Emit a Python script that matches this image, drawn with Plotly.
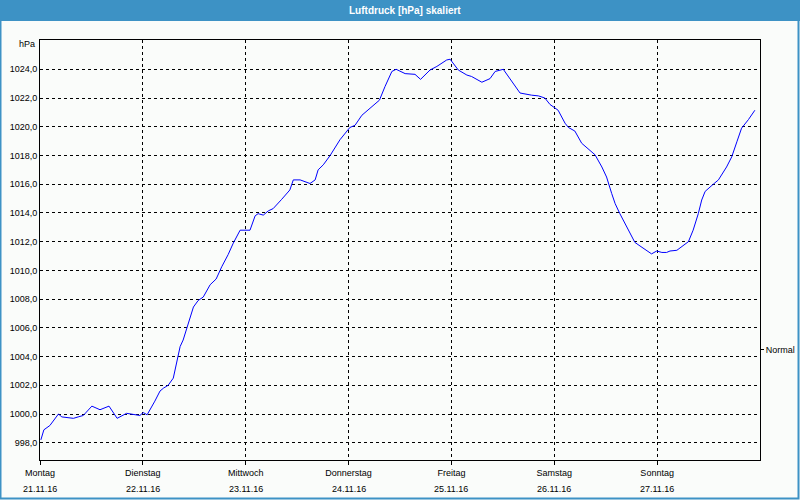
import plotly.graph_objects as go

# Hours since Monday 21.11.16 00:00
hours = [0.2, 0.9, 2.3, 4.3, 5.1, 7.8, 8.9, 10.1, 12.1, 14.0, 16.1, 18.0, 20.2, 21.0, 23.3, 24.1, 25.0,
         26.8, 28.0, 28.8, 29.9, 31.1, 32.7, 33.4, 35.8, 36.9, 38.1, 39.7, 41.1, 42.4, 43.9, 45.1,
         46.7, 49.0, 50.2, 50.9, 52.1, 53.3, 54.4, 56.4, 58.3, 59.1, 60.7, 63.0, 64.2, 64.9, 66.1,
         67.7, 70.0, 72.3, 73.5, 75.1, 77.0, 79.2, 80.5, 82.1, 83.1, 85.2, 87.5, 88.8, 91.0, 92.6,
         94.9, 95.7, 97.6, 99.6, 100.7, 103.1, 105.0, 106.2, 108.1, 110.1, 112.0, 114.7, 116.3,
         117.8, 119.0, 120.9, 122.5, 123.3, 124.8, 126.4, 127.9, 129.5, 131.1, 132.2, 133.4, 134.2,
         135.3, 136.9, 138.8, 140.0, 141.6, 142.7, 143.9, 145.1, 146.2, 147.0, 148.6, 150.1, 151.3,
         152.4, 153.6, 154.4, 155.2, 157.1, 158.3, 160.2, 161.4, 162.6, 163.7, 165.3, 166.8]
pressure = [998.2, 998.9, 999.2, 1000.0, 999.8, 999.7, 999.8, 999.9, 1000.55, 1000.3, 1000.55, 999.7,
            1000.05, 1000.0, 999.9, 1000.1, 999.95,
            1000.9, 1001.6, 1001.8, 1002.0, 1002.5, 1004.7, 1005.15, 1007.45, 1007.9, 1008.15, 1009.0,
            1009.4, 1010.25, 1011.1, 1011.9,
            1012.8, 1012.8, 1013.8, 1013.95, 1013.85, 1014.15, 1014.3, 1014.95, 1015.6, 1016.3, 1016.3,
            1016.05, 1016.3, 1017.0, 1017.35,
            1018.0, 1019.1, 1019.95, 1020.1, 1020.8, 1021.3, 1021.85, 1022.8, 1023.85, 1024.0, 1023.7,
            1023.65, 1023.3, 1023.95, 1024.2,
            1024.65, 1024.7, 1023.95, 1023.6, 1023.5, 1023.1, 1023.35, 1023.85, 1024.0, 1023.15, 1022.35,
            1022.2, 1022.15,
            1022.0, 1021.55, 1021.15, 1020.25, 1019.95, 1019.7, 1018.85, 1018.45, 1018.05, 1017.2, 1016.5,
            1015.35, 1014.65,
            1013.95, 1013.05, 1011.95, 1011.7, 1011.35, 1011.15, 1011.35, 1011.25, 1011.25, 1011.35,
            1011.4, 1011.7, 1012.0,
            1012.8, 1013.95, 1014.9, 1015.5, 1016.0, 1016.3, 1017.2, 1017.9, 1018.95, 1019.9, 1020.5,
            1021.15]

day_hours = [0, 24, 48, 72, 96, 120, 144]
day_names = ["Montag", "Dienstag", "Mittwoch", "Donnerstag", "Freitag", "Samstag", "Sonntag"]
day_dates = ["21.11.16", "22.11.16", "23.11.16", "24.11.16", "25.11.16", "26.11.16", "27.11.16"]
y_ticks = [998, 1000, 1002, 1004, 1006, 1008, 1010, 1012, 1014, 1016, 1018, 1020, 1022, 1024]
normal_value = 1004.5

title_text = "Luftdruck [hPa] skaliert"
unit_text = "hPa"

BG = "#fafcfa"
BLUE_BAR = "#3d92c5"
FONT = "Liberation Sans"
W, H = 800, 500
ML, MR, MT, MB = 40, 40, 40, 40
PW, PH = W - ML - MR, H - MT - MB


def px_to_paper_x(px):
    return (px - ML) / PW


def px_to_paper_y(py):
    return (H - MB - py) / PH


yrange = [996.8, 1026.04]

fig = go.Figure()
fig.add_trace(go.Scatter(x=hours, y=pressure, mode="lines",
                         line=dict(color="#0000ff", width=1), showlegend=False,
                         hoverinfo="skip"))
# invisible trace for secondary axis
fig.add_trace(go.Scatter(x=[0], y=[normal_value], yaxis="y2", mode="markers",
                         marker=dict(opacity=0), showlegend=False, hoverinfo="skip"))

fig.update_layout(
    width=W, height=H,
    margin=dict(l=ML, r=MR, t=MT, b=MB, autoexpand=False),
    paper_bgcolor=BG, plot_bgcolor=BG,
    font=dict(family=FONT, size=9, color="#000000"),
    separators=",.",
    xaxis=dict(range=[0, 168], tickvals=day_hours, ticktext=day_names,
               showgrid=True, gridcolor="#000000", gridwidth=1, griddash="3px,3px",
               showline=True, linecolor="#000000", linewidth=1, mirror=True,
               ticks="outside", ticklen=4, tickcolor="#000000", automargin=False,
               tickfont=dict(family=FONT, size=9), zeroline=False, fixedrange=True),
    yaxis=dict(range=yrange, tickvals=y_ticks, tickformat=".1f",
               showgrid=True, gridcolor="#000000", gridwidth=1, griddash="3px,3px",
               showline=True, linecolor="#000000", linewidth=1, mirror=True, automargin=False,
               ticks="", tickfont=dict(family=FONT, size=9), zeroline=False),
    yaxis2=dict(range=yrange, overlaying="y", side="right", tickvals=[normal_value],
                ticktext=["Normal"], showgrid=False, ticks="outside", ticklen=3,
                tickcolor="#000000", showline=False, zeroline=False, automargin=False,
                tickfont=dict(family=FONT, size=9)),
    shapes=[
        dict(type="rect", xref="paper", yref="paper",
             x0=px_to_paper_x(0), x1=px_to_paper_x(800), y0=px_to_paper_y(0), y1=px_to_paper_y(21),
             fillcolor=BLUE_BAR, line=dict(width=0), layer="above"),
        dict(type="rect", xref="paper", yref="paper",
             x0=px_to_paper_x(0.5), x1=px_to_paper_x(798.5), y0=px_to_paper_y(20), y1=px_to_paper_y(498.5),
             fillcolor="rgba(0,0,0,0)", line=dict(color=BLUE_BAR, width=2), layer="above"),
    ],
    annotations=[
        dict(text="<b>" + title_text + "</b>", xref="paper", yref="paper",
             x=px_to_paper_x(405), y=px_to_paper_y(10), showarrow=False,
             font=dict(family=FONT, size=10, color="#ffffff"), xanchor="center", yanchor="middle"),
        dict(text=unit_text, xref="paper", yref="paper", x=px_to_paper_x(37), y=px_to_paper_y(44),
             showarrow=False, xanchor="right", yanchor="middle", font=dict(family=FONT, size=9)),
    ] + [
        dict(text=d, x=h, xref="x", yref="paper", y=px_to_paper_y(489), showarrow=False,
             xanchor="center", yanchor="middle", font=dict(family=FONT, size=9))
        for h, d in zip(day_hours, day_dates)
    ],
)

fig.write_html("out.html")
